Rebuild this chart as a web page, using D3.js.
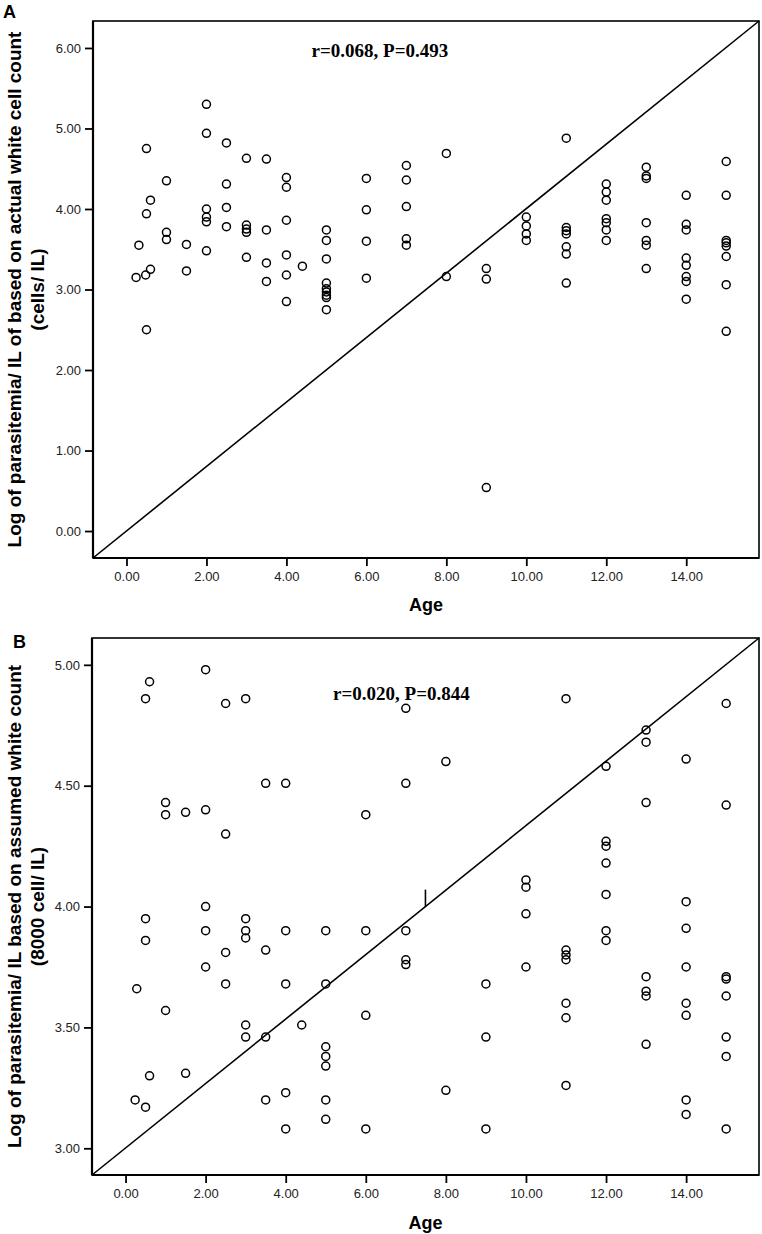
<!DOCTYPE html>
<html><head><meta charset="utf-8">
<script src="https://cdn.jsdelivr.net/npm/d3@7"></script>
<style>
html,body{margin:0;padding:0;background:#fff;}
svg{display:block;}
</style>
</head><body>
<script>
// ---------- DATA ----------
const ageA = [0.24,0.31,0.5,0.5,0.48,0.5,0.6,0.6,1,1,1,1.5,1.5,2,2,2,2,2,2,2.5,2.5,2.5,2.5,3,3,3,3,3,3.5,3.5,3.5,3.5,4,4,4,4,4,4,4.4,5,5,5,5,5,5,5,5,5,6,6,6,6,7,7,7,7,7,8,8,9,9,9,10,10,10,10,11,11,11,11,11,11,11,12,12,12,12,12,12,12,13,13,13,13,13,13,13,14,14,14,14,14,14,14,14,15,15,15,15,15,15,15,15];
const logA = [3.15,3.55,4.75,3.94,3.18,2.50,4.11,3.25,4.35,3.71,3.62,3.56,3.23,5.30,4.94,4.00,3.90,3.84,3.48,4.82,4.31,4.02,3.78,4.63,3.80,3.75,3.71,3.40,4.62,3.74,3.33,3.10,4.39,4.27,3.86,3.43,3.18,2.85,3.29,3.74,3.61,3.38,3.08,3.01,2.97,2.93,2.90,2.75,4.38,3.99,3.60,3.14,4.54,4.36,4.03,3.63,3.55,4.69,3.16,3.26,3.13,0.54,3.90,3.79,3.69,3.61,4.88,3.77,3.73,3.69,3.53,3.44,3.08,4.31,4.21,4.11,3.88,3.83,3.74,3.61,4.52,4.41,4.38,3.83,3.61,3.55,3.26,4.17,3.81,3.74,3.39,3.30,3.16,3.10,2.88,4.59,4.17,3.61,3.58,3.54,3.41,3.06,2.48];

const ageB = [0.24,0.28,0.5,0.5,0.5,0.5,0.6,0.6,1,1,1,1.5,1.5,2,2,2,2,2,2.5,2.5,2.5,2.5,3,3,3,3,3,3,3.5,3.5,3.5,3.5,4,4,4,4,4,4.4,5,5,5,5,5,5,5,6,6,6,6,7,7,7,7,7,8,8,9,9,9,10,10,10,10,11,11,11,11,11,11,11,12,12,12,12,12,12,12,13,13,13,13,13,13,13,14,14,14,14,14,14,14,14,15,15,15,15,15,15,15,15];
const logB = [3.20,3.66,4.86,3.95,3.86,3.17,4.93,3.30,4.43,4.38,3.57,4.39,3.31,4.98,4.40,4.00,3.90,3.75,4.84,4.30,3.81,3.68,4.86,3.95,3.90,3.87,3.51,3.46,4.51,3.82,3.46,3.20,4.51,3.90,3.68,3.23,3.08,3.51,3.90,3.68,3.42,3.38,3.34,3.20,3.12,4.38,3.90,3.55,3.08,4.82,4.51,3.90,3.78,3.76,4.60,3.24,3.68,3.46,3.08,4.11,4.08,3.97,3.75,4.86,3.82,3.80,3.78,3.60,3.54,3.26,4.58,4.27,4.25,4.18,4.05,3.90,3.86,4.73,4.68,4.43,3.71,3.65,3.63,3.43,4.61,4.02,3.91,3.75,3.60,3.55,3.20,3.14,4.84,4.42,3.71,3.70,3.63,3.46,3.38,3.08];

const xTicks = [0,2,4,6,8,10,12,14];
const yTicksA = [0,1,2,3,4,5,6];
const yTicksB = [3.0,3.5,4.0,4.5,5.0];
const xDomain = [-0.8375, 15.82];
const yDomainA = [-0.335, 6.335];
const yDomainB = [2.8895, 5.111];
const titleA = ["Log of parasitemia/ IL of based on actual white cell count", "(cells/ IL)"];
const titleB = ["Log of parasitemia/ IL based on assumed white count", "(8000 cell/ IL)"];
const statA = "r=0.068, P=0.493";
const statB = "r=0.020, P=0.844";
const statPosA = [6.34, 5.89];
const statPosB = [6.89, 4.855];
const strayMarkB = [[7.49, 4.0], [7.49, 4.07]];

// ---------- DRAW ----------
const W = 762, H = 1234;
const svg = d3.select("body").append("svg").attr("width", W).attr("height", H)
  .style("background", "#fff");

function panel(opts) {
  const {left, right, top, bottom, ys, yTicks, title, stat, statPos, letter, letterPos, ageBase, extra} = opts;
  const x = d3.scaleLinear().domain(xDomain).range([left, right]);
  const y = d3.scaleLinear().domain(ys).range([bottom, top]);
  const g = svg.append("g");

  // frame
  g.append("rect").attr("x", left).attr("y", top).attr("width", right - left).attr("height", bottom - top)
    .attr("fill", "none").attr("stroke", "#000").attr("stroke-width", 1.6);

  // axes
  const yAxis = d3.axisLeft(y).tickValues(yTicks).tickFormat(d3.format(".2f")).tickSize(8).tickPadding(4);
  const xAxis = d3.axisBottom(x).tickValues(xTicks).tickFormat(d3.format(".2f")).tickSize(8).tickPadding(6);
  const ya = g.append("g").attr("transform", `translate(${left},0)`).call(yAxis);
  const xa = g.append("g").attr("transform", `translate(0,${bottom})`).call(xAxis);
  [ya, xa].forEach(a => {
    a.select(".domain").attr("stroke", "#000").attr("stroke-width", 2.2);
    a.selectAll(".tick line").attr("stroke", "#000").attr("stroke-width", 1.8);
    a.selectAll(".tick text").attr("fill", "#222").style("font-family", "'Liberation Sans', Arial, sans-serif").style("font-size", "13px");
  });
  ya.select(".domain").attr("d", `M0,${top}V${bottom}`);
  xa.select(".domain").attr("d", `M${left},0H${right}`);

  // diagonal line corner-to-corner
  g.append("line")
    .attr("x1", x(xDomain[0])).attr("y1", y(ys[0]))
    .attr("x2", x(xDomain[1])).attr("y2", y(ys[1]))
    .attr("stroke", "#000").attr("stroke-width", 1.6);

  if (extra) {
    g.append("line").attr("x1", x(extra[0][0])).attr("y1", y(extra[0][1]))
      .attr("x2", x(extra[1][0])).attr("y2", y(extra[1][1]))
      .attr("stroke", "#000").attr("stroke-width", 1.6);
  }

  // points
  g.append("g").selectAll("circle").data(opts.ages.map((a, i) => [a, opts.vals[i]])).join("circle")
    .attr("cx", d => x(d[0])).attr("cy", d => y(d[1])).attr("r", 4)
    .attr("fill", "none").attr("stroke", "#000").attr("stroke-width", 1.5);

  // stat annotation
  g.append("text").attr("x", x(statPos[0])).attr("y", y(statPos[1]))
    .attr("text-anchor", "middle")
    .style("font-family", "'Liberation Serif', 'Times New Roman', serif")
    .style("font-weight", "bold").style("font-size", "19px").text(stat);

  // x title
  g.append("text").attr("x", (left + right) / 2).attr("y", ageBase)
    .attr("text-anchor", "middle")
    .style("font-family", "'Liberation Sans', Arial, sans-serif")
    .style("font-weight", "bold").style("font-size", "18px").text("Age");

  // y title (two lines)
  const cy = (top + bottom) / 2;
  [21, 44].forEach((bx, i) => {
    g.append("text").attr("transform", `translate(${bx},${cy}) rotate(-90)`)
      .attr("text-anchor", "middle")
      .style("font-family", "'Liberation Sans', Arial, sans-serif")
      .style("font-weight", "bold").style("font-size", "19px").text(title[i]);
  });

  // panel letter
  g.append("text").attr("x", letterPos[0]).attr("y", letterPos[1])
    .style("font-family", "'Liberation Sans', Arial, sans-serif")
    .style("font-weight", "bold").style("font-size", "18px").text(letter);
}

panel({left: 93, right: 759, top: 21, bottom: 558, ys: yDomainA, yTicks: yTicksA,
  title: titleA, stat: statA, statPos: statPosA, letter: "A", letterPos: [3, 18], ageBase: 611,
  ages: ageA, vals: logA});
panel({left: 92, right: 759, top: 638, bottom: 1175, ys: yDomainB, yTicks: yTicksB,
  title: titleB, stat: statB, statPos: statPosB, letter: "B", letterPos: [13, 648], ageBase: 1229,
  ages: ageB, vals: logB, extra: strayMarkB});
</script>
</body></html>
